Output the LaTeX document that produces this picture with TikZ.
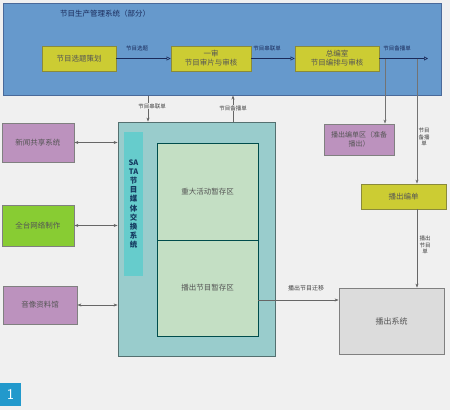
\documentclass[tikz,border=0pt]{standalone}
\usepackage{fontspec}
\newfontfamily\cjk{Noto Sans CJK SC}
\usetikzlibrary{arrows.meta}
\definecolor{bgc}{HTML}{F0F0F0}
\definecolor{bluebg}{HTML}{6699CC}
\definecolor{bluebd}{HTML}{4A6A9A}
\definecolor{yel}{HTML}{CCCC33}
\definecolor{yelbd}{HTML}{8A8A3A}
\definecolor{purp}{HTML}{BC92BE}
\definecolor{grn}{HTML}{88CC33}
\definecolor{teal1}{HTML}{99CCCC}
\definecolor{teal2}{HTML}{66CCCC}
\definecolor{inner}{HTML}{C4DFC4}
\definecolor{grayb}{HTML}{DCDCDC}
\definecolor{navy}{HTML}{1A2A5A}
\definecolor{txt}{HTML}{555555}
\definecolor{numb}{HTML}{2299CC}
\tikzset{
  box/.style={draw, line width=0.8pt, inner sep=1pt, align=center, text=txt, font=\cjk\fontsize{7.5}{9}\selectfont},
  ybox/.style={box, fill=yel, draw=yelbd, minimum height=25pt},
  pbox/.style={box, fill=purp, draw=gray},
  lbl/.style={font=\cjk\fontsize{5.5}{6.5}\selectfont, text=navy, align=center, inner sep=0.5pt},
  lblb/.style={lbl, text=black!75, fill=bgc},
  toparr/.style={draw=navy, line width=0.6pt, -{Triangle[open, length=4pt, width=4pt]}},
  conn/.style={draw=black!60, line width=0.6pt, -{Stealth[length=4pt, width=3pt]}},
  dconn/.style={draw=black!60, line width=0.6pt, {Stealth[length=4pt, width=3pt]}-{Stealth[length=4pt, width=3pt]}}
}
\begin{document}
\begin{tikzpicture}[x=1pt, y=-1pt, font=\cjk\fontsize{6.5}{8}\selectfont]
\fill[bgc] (0,0) rectangle (450,410);
\useasboundingbox (0,0) rectangle (450,410);
% top system
\node[draw=bluebd, fill=bluebg, line width=1pt, minimum width=438pt, minimum height=92pt] (blue) at (222,49) {};
\node[text=navy, font=\cjk\fontsize{7.5}{9}\selectfont] (title) at (105,14) {节目生产管理系统（部分）};
\node[ybox, minimum width=74pt] (b1) at (79,58.5) {节目选题策划};
\node[ybox, minimum width=80pt] (b2) at (211,58.5) {一审\\节目审片与审核};
\node[ybox, minimum width=84pt] (b3) at (337,58.5) {总编室\\节目编排与审核};
\coordinate (e1) at (428,58.5);
\draw[toparr] (b1.east) -- (b2.west);
\draw[toparr] (b2.east) -- (b3.west);
\draw[toparr] (b3.east) -- (e1);
\node[lbl] (t1) at (137,48) {节目选题};
\node[lbl] (t2) at (267,48) {节目串联单};
\node[lbl] (t3) at (397,48) {节目备播单};
% right column
\node[pbox, minimum width=70pt, minimum height=31pt, font=\cjk\fontsize{7}{8.5}\selectfont] (pr) at (359,139.5) {播出编单区（准备\\播出）};
\node[ybox, minimum width=85pt] (yr) at (403.5,196.5) {播出编单};
\node[box, fill=grayb, draw=gray, minimum width=105pt, minimum height=66pt, font=\cjk\fontsize{8}{9}\selectfont] (gr) at (391.5,321) {播出系统};
\coordinate (j1) at (385,58.5);
\coordinate (j2) at (417,58.5);
\draw[conn, draw=black!55] (j1) -- (j1 |- pr.north);
\draw[conn, draw=black!55] (j2) -- (j2 |- yr.north);
\draw[conn] (yr.south -| j2) -- (j2 |- gr.north);
\node[lbl, text=black!75] (t4) at (424,137) {节目\\备播\\单};
\node[lbl, text=black!75] (t5) at (425,245) {播出\\节目\\单};
% SATA
\node[draw=black!45!teal1, fill=teal1, line width=0.8pt, minimum width=157pt, minimum height=234pt] (teal) at (196.5,239) {};
\node[fill=teal2, minimum width=19pt, minimum height=144pt, inner sep=0pt] (sata) at (133.5,204) {};
\node[text=navy!80!teal, font=\cjk\bfseries\fontsize{7.5}{9.2}\selectfont, align=center] (satat) at (133.5,204) {SA\\TA\\节\\目\\媒\\体\\交\\换\\系\\统};
\node[draw=teal!60!black, fill=inner, line width=0.6pt, minimum width=101pt, minimum height=97pt, text=txt, font=\cjk\fontsize{7.5}{9}\selectfont] (it) at (207.5,191.5) {重大活动暂存区};
\node[draw=teal!60!black, fill=inner, line width=0.6pt, minimum width=101pt, minimum height=96pt, text=txt, font=\cjk\fontsize{7.5}{9}\selectfont] (ib) at (207.5,288) {播出节目暂存区};
% verticals between blue and teal
\coordinate (c1) at (148,0);
\coordinate (c2) at (233,0);
\draw[conn] (blue.south -| c1) -- (teal.north -| c1);
\draw[conn] (teal.north -| c2) -- (blue.south -| c2);
\node[lblb] (t6) at (152,106) {节目串联单};
\node[lblb] (t7) at (233,108) {节目备播单};
% left boxes
\node[pbox, minimum width=72pt, minimum height=39pt] (l1) at (38,142.5) {新闻共享系统};
\node[box, fill=grn, draw=gray, minimum width=72pt, minimum height=41pt] (l2) at (38,225.5) {全台网络制作};
\node[pbox, minimum width=74pt, minimum height=38pt] (l3) at (40,305) {音像资料馆};
\draw[dconn] (l1.east) -- (l1.east -| teal.west);
\draw[dconn] (l2.east) -- (l2.east -| teal.west);
\draw[dconn] (l3.east) -- (l3.east -| teal.west);
% bottom migration
\coordinate (c3) at (0,300);
\draw[conn] (ib.east |- c3) -- (gr.west |- c3);
\node[lbl, text=black!75, font=\cjk\fontsize{6}{7}\selectfont] (t8) at (306,288) {播出节目迁移};
% figure number
\node[fill=numb, text=white, minimum width=21pt, minimum height=23pt, inner sep=0pt, font=\sffamily\fontsize{15}{15}\selectfont] (num) at (10.5,394.5) {1};
\end{tikzpicture}
\end{document}
